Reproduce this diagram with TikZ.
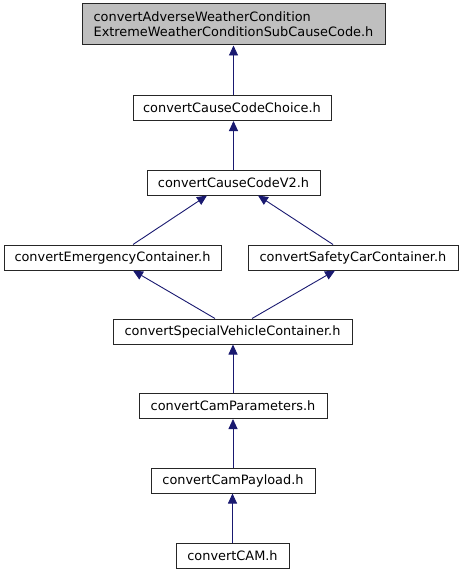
\documentclass[tikz,border=0pt]{standalone}
\usepackage{fontspec}
\setmainfont{DejaVu Sans}
\usetikzlibrary{arrows.meta}
\definecolor{edgeblue}{RGB}{25,25,112}
\definecolor{topgray}{RGB}{191,191,191}
\begin{document}
\begin{tikzpicture}[x=1pt,y=-1pt,
  filebox/.style={draw=black!85,line width=1pt,rectangle,inner sep=0pt,minimum height=25pt,font=\fontsize{12.9}{15}\selectfont},
  arr/.style={draw=edgeblue,line width=0.9pt,-{Triangle[length=10pt,width=9pt]}}]
\useasboundingbox (0,0) rectangle (463,575);
\node[filebox,fill=topgray,minimum width=303pt,minimum height=41pt,align=left] (top) at (233.5,24.5)
  {convertAdverseWeatherCondition\\ExtremeWeatherConditionSubCauseCode.h};
\node[filebox,minimum width=198pt] (choice) at (232,108) {convertCauseCodeChoice.h};
\node[filebox,minimum width=173pt] (v2) at (233.5,182.5) {convertCauseCodeV2.h};
\node[filebox,minimum width=217pt] (emerg) at (112.5,257.5) {convertEmergencyContainer.h};
\node[filebox,minimum width=210pt] (safety) at (353,257.5) {convertSafetyCarContainer.h};
\node[filebox,minimum width=239pt] (special) at (232.5,331.5) {convertSpecialVehicleContainer.h};
\node[filebox,minimum width=188pt] (params) at (233,406) {convertCamParameters.h};
\node[filebox,minimum width=164pt] (payload) at (233,480.5) {convertCamPayload.h};
\node[filebox,minimum width=113pt] (cam) at (232.5,555.5) {convertCAM.h};
\draw[arr] (choice.north -| top.south) -- (top.south);
\draw[arr] (v2.north) -- (choice.south -| v2.north);
\draw[arr] ([xshift=20.5pt]emerg.north) -- ([xshift=-26.5pt]v2.south);
\draw[arr] ([xshift=-20pt]safety.north) -- ([xshift=24.5pt]v2.south);
\draw[arr] ([xshift=-17.5pt]special.north) -- ([xshift=20.5pt]emerg.south);
\draw[arr] ([xshift=19.5pt]special.north) -- ([xshift=-18pt]safety.south);
\draw[arr] (params.north) -- (params.north |- special.south);
\draw[arr] (payload.north) -- (payload.north |- params.south);
\draw[arr] (cam.north) -- (cam.north |- payload.south);
\end{tikzpicture}
\end{document}
